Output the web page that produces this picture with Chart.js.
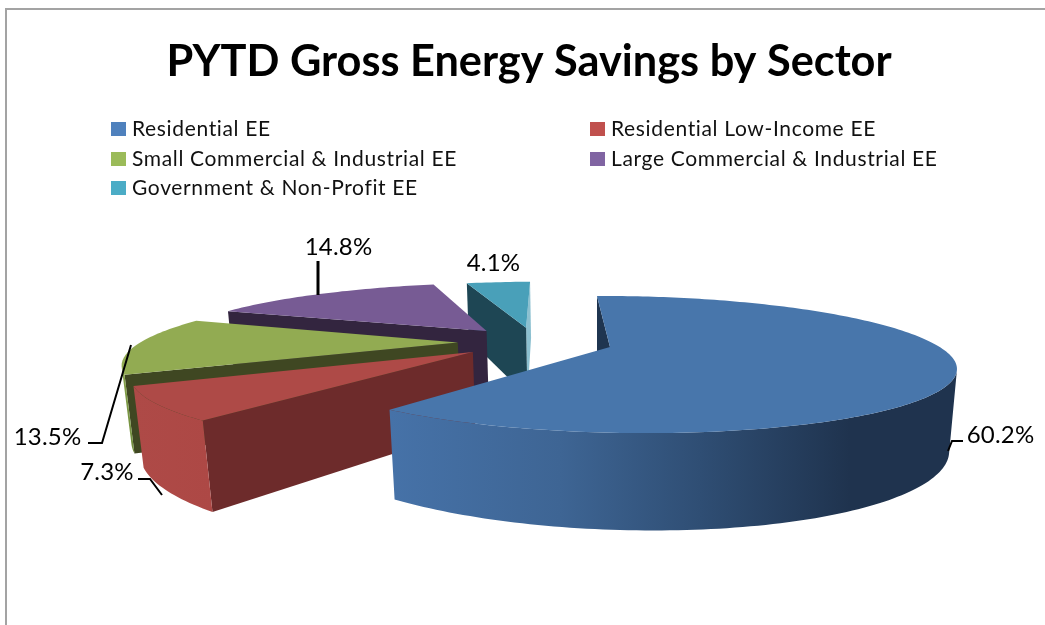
<!DOCTYPE html>
<html>
<head>
<meta charset="utf-8">
<style>html,body{margin:0;padding:0;background:#fff}canvas{display:block}</style>
<script src="https://cdn.jsdelivr.net/npm/chart.js@4/dist/chart.umd.min.js"></script>
</head>
<body>
<div style="width:1045px;height:625px"><canvas id="c" width="1045" height="625"></canvas></div>
<script>
const categories = ['Residential EE','Residential Low-Income EE','Small Commercial & Industrial EE','Large Commercial & Industrial EE','Government & Non-Profit EE'];
const shares = [60.2, 7.3, 13.5, 14.8, 4.1];
const legendColors = ['#4f81bd','#c0504d','#9bbb59','#8064a2','#4bacc6'];
const topColors = ['#4876ab','#ae4a47','#92ab52','#775b94','#49a0b9'];
const edgeColors = ['#1f3550','#6d2b2b','#3f4722','#33253f','#1e4654'];
const paintOrder = [4,3,2,1,0];
const rimScale = [1,1.05,1.07,1.09,1.06];

// Perspective camera of the 3D pie, in units of the pie radius
const cam = {a:302,b:139.5,cx:610,d:-10.1,e:24.6,cy:347,g:-0.03,h:0.2555,p:12,r:83,q:0.02};
function project(X,Y,z){
  const w = 1 + cam.g*X + cam.h*Y + cam.q*z;
  return [(cam.a*X + cam.b*Y + cam.cx + cam.p*z)/w, (cam.d*X + cam.e*Y + cam.cy + cam.r*z)/w];
}
function area(pts){let s=0;pts.forEach((p,i)=>{const n=pts[(i+1)%pts.length];s+=p[0]*n[1]-n[0]*p[1];});return s;}
function poly(ctx,pts,fill){ctx.beginPath();pts.forEach((p,i)=>i?ctx.lineTo(p[0],p[1]):ctx.moveTo(p[0],p[1]));ctx.closePath();ctx.fillStyle=fill;ctx.fill();}

function wallFill(ctx,i){
  const stops = {
    0:[[390,'#4672a8'],[560,'#3e6594'],[700,'#2f4e74'],[850,'#1f334e'],[955,'#1f334e']],
    1:[[130,'#ae4a47'],[215,'#ad4845']],
    2:[[120,'#8aa64c'],[135,'#6d8a3c']],
    3:[[200,'#4d3a66'],[400,'#33253f']],
    4:[[460,'#8cc0d0'],[530,'#8cc0d0']]
  }[i];
  const g = ctx.createLinearGradient(stops[0][0],0,stops[stops.length-1][0],0);
  const x0=stops[0][0],x1=stops[stops.length-1][0];
  stops.forEach(s=>g.addColorStop((s[0]-x0)/(x1-x0),s[1]));
  return g;
}

const pie3d = {
  id:'pie3d',
  beforeDatasetDraw(chart,args){
    const ctx = chart.ctx, arcs = chart.getDatasetMeta(0).data;
    const geo = arcs.map(el=>{
      const s = el.startAngle+Math.PI/2, t = el.endAngle+Math.PI/2, m=(s+t)/2, ex = el.options.offset/el.outerRadius;
      return {s,t,ax:ex*Math.sin(m),ay:ex*Math.cos(m)};
    });
    const ox = geo[0].ax, oy = geo[0].ay;
    paintOrder.forEach(i=>{
      const g = geo[i], n = Math.max(4,Math.ceil((g.t-g.s)/0.02)), R = rimScale[i];
      const ax = g.ax-ox, ay = g.ay-oy;
      const rim = z => { const out=[]; for(let k=0;k<=n;k++){const th=g.s+(g.t-g.s)*k/n; out.push(project(ax+R*Math.sin(th),ay+R*Math.cos(th),z));} return out; };
      const top = rim(0), bot = rim(1), a0 = project(ax,ay,0), a1 = project(ax,ay,1);
      const startWall = [a0,top[0],bot[0],a1], endWall = [a0,top[n],bot[n],a1];
      if(area(endWall)>0) poly(ctx,endWall,wallFill(ctx,i));
      if(area(startWall)<0) poly(ctx,startWall,edgeColors[i]);
      const upper=[],lower=[];
      for(let k=0;k<n;k++){
        if(area([top[k],top[k+1],bot[k+1],bot[k]])<0){
          if(!upper.length){upper.push(top[k]);lower.push(bot[k]);}
          upper.push(top[k+1]);lower.push(bot[k+1]);
        }
      }
      if(upper.length) poly(ctx,upper.concat(lower.reverse()),wallFill(ctx,i));
      poly(ctx,[a0].concat(top),topColors[i]);
    });
    return false;
  }
};

// Label placement and leader lines
const labelPos = [[1000.5,435],[107,472],[47.5,437],[338.5,247],[493.5,263]];
const leaders = [[[948,451],[952,441],[963,441]],[[138,479],[150,479],[162,495]],[[88,443],[102,443],[131,345]],[[318,261],[318,295]],[]];
const leaderWidths = [2,2,2,3,0];
const legendPos = [[111,122],[590,122],[111,152],[590,152],[111,181]];

const annotate = {
  id:'annotate',
  beforeDraw(chart){
    const ctx = chart.ctx;
    ctx.save();ctx.strokeStyle='#a3a3a3';ctx.lineWidth=2;
    ctx.beginPath();ctx.moveTo(6,625);ctx.lineTo(6,9);ctx.lineTo(1045,9);ctx.stroke();ctx.restore();
  },
  afterDraw(chart){
    const ctx = chart.ctx;
    ctx.save();
    ctx.textBaseline='middle';ctx.textAlign='left';ctx.fillStyle='#000';
    ctx.font='21px Lato';ctx.letterSpacing='0.65px';
    chart.data.labels.forEach((l,i)=>{
      const [x,y]=legendPos[i];
      ctx.fillStyle=legendColors[i];ctx.fillRect(x,y,15,14);
      ctx.fillStyle='#111';ctx.fillText(l,x+21,y+7);
    });
    ctx.strokeStyle='#000';
    leaders.forEach((L,k)=>{if(!L.length)return;ctx.lineWidth=leaderWidths[k];ctx.beginPath();L.forEach((p,i)=>i?ctx.lineTo(p[0],p[1]):ctx.moveTo(p[0],p[1]));ctx.stroke();});
    ctx.letterSpacing='0.2px';
    ctx.textAlign='center';ctx.fillStyle='#000';ctx.font='24px Lato';
    shares.forEach((v,i)=>ctx.fillText(v.toFixed(1)+'%',labelPos[i][0],labelPos[i][1]));
    ctx.restore();
  }
};

new Chart(document.getElementById('c'),{
  type:'pie',
  data:{labels:categories,datasets:[{data:shares,backgroundColor:legendColors,offset:25,radius:100,borderWidth:0}]},
  plugins:[pie3d,annotate],
  options:{
    responsive:false,animation:false,
    layout:{padding:{left:13}},
    plugins:{
      legend:{display:false},tooltip:{enabled:false},
      title:{display:true,text:'PYTD Gross Energy Savings by Sector',color:'#000',font:{family:'Lato',size:43.3,weight:'bold'},padding:{top:36,bottom:0}}
    }
  }
});
</script>
</body>
</html>
